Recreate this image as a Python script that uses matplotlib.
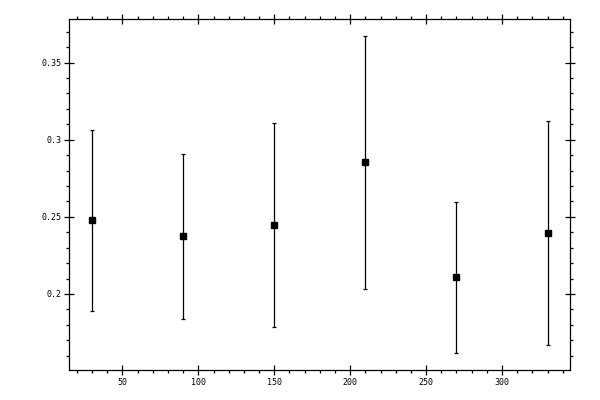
import matplotlib
matplotlib.use("Agg")
import matplotlib.pyplot as plt
from matplotlib.ticker import MultipleLocator, FormatStrFormatter

# Data
angles = [30, 90, 150, 210, 270, 330]
values = [0.2477, 0.2374, 0.2445, 0.2853, 0.2108, 0.2393]
errors = [0.0588, 0.0534, 0.0661, 0.0821, 0.0491, 0.0725]

fig = plt.figure(figsize=(6, 4), dpi=100)
ax = fig.add_axes([0.1155, 0.07425, 0.835, 0.87750])

ax.errorbar(angles, values, yerr=errors, fmt="s", color="black",
            markersize=4.8, elinewidth=0.9, capsize=1.6, capthick=0.9)

ax.set_xlim(15, 345)
ax.set_ylim(0.1505, 0.378)

ax.xaxis.set_major_locator(MultipleLocator(50))
ax.xaxis.set_minor_locator(MultipleLocator(10))
ax.yaxis.set_major_locator(MultipleLocator(0.05))
ax.yaxis.set_minor_locator(MultipleLocator(0.01))
ax.yaxis.set_major_formatter(FormatStrFormatter("%g"))

for s in ax.spines.values():
    s.set_linewidth(0.9)

ax.tick_params(which="both", top=True, right=True, width=0.9,
               labelsize=6, colors="black")
ax.tick_params(which="major", direction="inout", length=6.5, pad=2.5)
ax.tick_params(which="minor", direction="out", length=2.5)
for lbl in ax.get_xticklabels() + ax.get_yticklabels():
    lbl.set_family("DejaVu Sans Mono")

fig.savefig("out.png", dpi=100)
